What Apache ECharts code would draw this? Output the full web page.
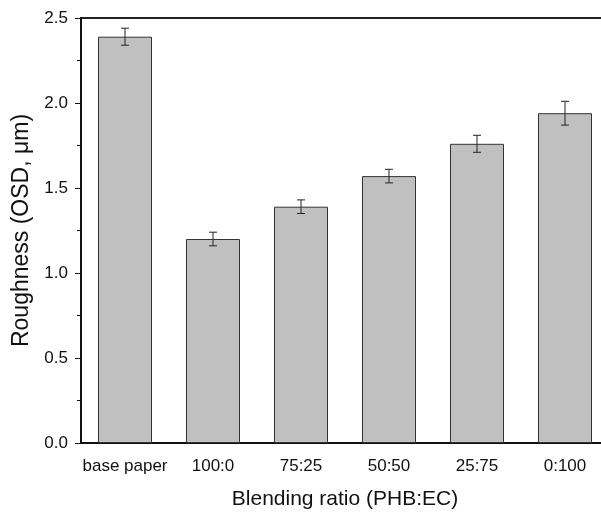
<!DOCTYPE html>
<html><head><meta charset="utf-8">
<script src="https://cdn.jsdelivr.net/npm/echarts@6/dist/echarts.min.js"></script>
<style>html,body{margin:0;padding:0;background:#fff}#c{width:601px;height:516px}</style>
</head><body><div id="c"></div>
<script>
const categories = ['base paper', '100:0', '75:25', '50:50', '25:75', '0:100'];
const roughness = [2.39, 1.20, 1.39, 1.57, 1.76, 1.94];
const errors = [0.05, 0.04, 0.04, 0.04, 0.05, 0.07];
const yTicks = [0, 0.5, 1.0, 1.5, 2.0, 2.5];

const font = '"Liberation Sans", Arial, sans-serif';
const chart = echarts.init(document.getElementById('c'), null, {renderer: 'canvas'});
chart.setOption({
  animation: false,
  backgroundColor: '#fff',
  grid: {left: 81, top: 18, right: -8, bottom: 73, outerBoundsMode: 'none', containLabel: false,
    show: true, borderColor: '#222', borderWidth: 2, backgroundColor: 'transparent'},
  xAxis: {
    type: 'category', data: categories,
    name: 'Blending ratio (PHB:EC)', nameLocation: 'middle', nameGap: 46,
    nameTextStyle: {fontFamily: font, fontSize: 21, color: '#111'},
    axisLine: {lineStyle: {color: '#111', width: 2}},
    axisTick: {alignWithLabel: true, length: 6, lineStyle: {color: '#111', width: 1}},
    axisLabel: {interval: 0, fontFamily: font, fontSize: 17, color: '#111', margin: 15},
  },
  yAxis: {
    type: 'value', min: 0, max: 2.5, interval: 0.5,
    name: 'Roughness (OSD, μm)', nameLocation: 'middle', nameGap: 44,
    nameTextStyle: {fontFamily: font, fontSize: 23, color: '#111'},
    axisLine: {show: true, lineStyle: {color: '#111', width: 2}},
    axisTick: {show: true, length: 6, lineStyle: {color: '#111', width: 1}},
    minorTick: {show: true, splitNumber: 2, length: 4, lineStyle: {color: '#111', width: 1}},
    splitLine: {show: false},
    axisLabel: {fontFamily: font, fontSize: 17, color: '#111', margin: 13,
      formatter: v => yTicks.includes(v) ? v.toFixed(1) : ''},
  },
  series: [
    {
      type: 'bar', data: roughness, barWidth: 54,
      itemStyle: {color: '#c0c0c0', borderColor: '#333', borderWidth: 1},
    },
    {
      type: 'custom', z: 10,
      data: roughness.map((v, i) => [i, v, errors[i]]),
      renderItem: (params, api) => {
        const i = api.value(0), v = api.value(1), e = api.value(2);
        const top = api.coord([i, v + e]);
        const bot = api.coord([i, v - e]);
        const x = top[0];
        const s = {stroke: '#222', lineWidth: 1};
        return {type: 'group', children: [
          {type: 'line', shape: {x1: x, y1: top[1], x2: x, y2: bot[1]}, style: s},
          {type: 'line', shape: {x1: x - 4, y1: top[1], x2: x + 4, y2: top[1]}, style: s},
          {type: 'line', shape: {x1: x - 4, y1: bot[1], x2: x + 4, y2: bot[1]}, style: s},
        ]};
      }
    }
  ]
});
</script></body></html>
